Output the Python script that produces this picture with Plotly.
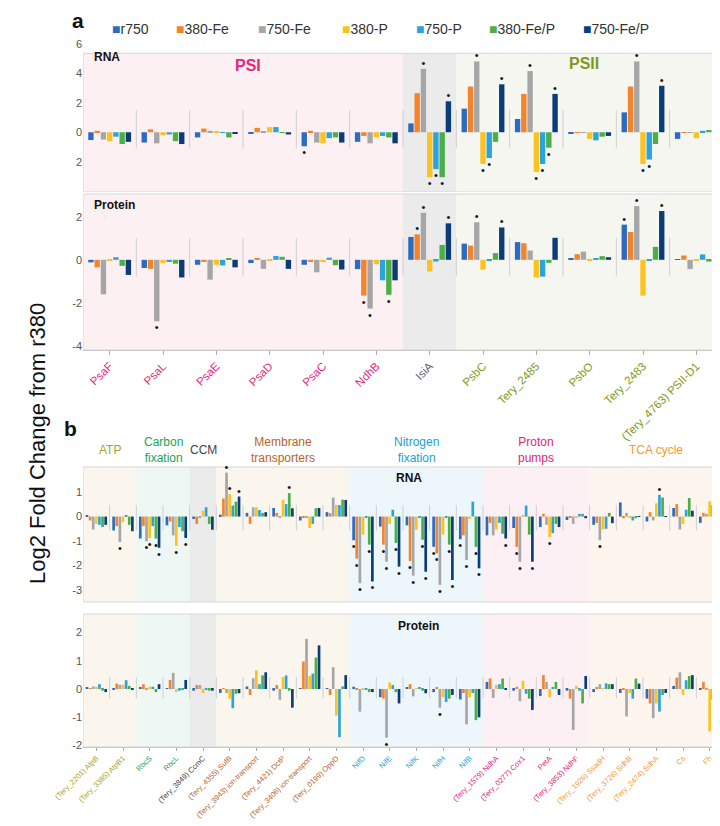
import plotly.graph_objects as go

W, H = 720, 826
FONT = "Liberation Sans, Arial, sans-serif"

series = ["r750", "380-Fe", "750-Fe", "380-P", "750-P", "380-Fe/P", "750-Fe/P"]
colors = ["#2b6cc0", "#f5832a", "#a6a6a6", "#fcc31e", "#2ba3dd", "#4dad48", "#0c3c78"]

# ---------------- panel a ----------------
a_genes = ["PsaF", "PsaL", "PsaE", "PsaD", "PsaC", "NdhB", "IsiA", "PsbC",
           "Tery_2485", "PsbO", "Tery_2483", "(Tery_4763) PSII-D1"]
a_label_colors = ["#e5287a"] * 6 + ["#666666"] + ["#7c9a1c"] * 5

a_rna_r750 = [-0.53, -0.70, -0.35, -0.10, -0.95, -0.65, 0.60, 1.60, 0.90, -0.10, 1.35, -0.45]
a_rna_380Fe = [0.10, 0.20, 0.25, 0.30, 0.10, -0.25, 2.65, 3.10, 2.60, -0.03, 3.10, -0.05]
a_rna_750Fe = [-0.50, -0.75, 0.10, 0.03, -0.70, -0.75, 4.30, 4.80, 4.15, -0.03, 4.80, -0.05]
a_rna_380P = [-0.60, -0.20, 0.05, 0.35, -0.75, -0.35, -3.05, -2.15, -2.70, -0.45, -2.15, -0.40]
a_rna_750P = [-0.30, -0.15, -0.02, 0.35, -0.40, -0.25, -2.50, -1.75, -2.15, -0.55, -1.85, 0.10]
a_rna_380FeP = [-0.80, -0.60, -0.35, -0.02, -0.35, -0.35, -3.05, -0.65, -1.05, -0.30, -0.80, 0.15]
a_rna_750FeP = [-0.65, -0.80, -0.07, -0.15, -0.70, -0.75, 2.10, 3.25, 2.60, -0.25, 3.15, -0.20]

a_prot_r750 = [-0.12, -0.38, -0.23, -0.15, -0.23, -0.43, 1.06, 0.75, 0.82, 0.05, 1.63, 0.03]
a_prot_380Fe = [-0.35, -0.42, -0.10, 0.05, -0.10, -1.66, 1.18, 0.66, 0.77, 0.26, 1.29, 0.20]
a_prot_750Fe = [-1.60, -2.85, -0.92, -0.42, -0.58, -2.26, 2.18, 1.74, 0.43, 0.38, 2.49, -0.43]
a_prot_380P = [-0.03, -0.15, -0.23, -0.02, -0.10, -0.20, -0.54, -0.45, -0.82, -0.03, -1.66, -0.02]
a_prot_750P = [0.12, -0.10, -0.26, 0.18, 0.10, -0.95, -0.08, -0.03, -0.78, 0.08, -0.03, 0.25]
a_prot_380FeP = [-0.28, -0.18, 0.08, 0.14, -0.25, -1.62, 0.69, 0.31, -0.14, 0.17, 0.60, -0.08]
a_prot_750FeP = [-0.70, -0.82, -0.35, -0.42, -0.45, -0.95, 1.69, 1.50, 1.02, 0.12, 2.26, -0.03]

# genes marked with a significance asterisk, per series
a_rna_sig = {
    "r750": ["PsaC"],
    "750-Fe": ["IsiA", "PsbC", "Tery_2485", "Tery_2483"],
    "380-P": ["IsiA", "PsbC", "Tery_2485", "Tery_2483"],
    "750-P": ["IsiA", "PsbC", "Tery_2485", "Tery_2483"],
    "380-Fe/P": ["IsiA", "Tery_2485"],
    "750-Fe/P": ["IsiA", "PsbC", "Tery_2485", "Tery_2483"],
}
a_prot_sig = {
    "r750": ["Tery_2483"],
    "380-Fe": ["NdhB", "IsiA"],
    "750-Fe": ["PsaL", "NdhB", "IsiA", "PsbC", "Tery_2483"],
    "380-Fe/P": ["NdhB"],
    "750-Fe/P": ["IsiA", "PsbC", "Tery_2483"],
}

# ---------------- panel b ----------------
b_genes = ["(Tery_2201) AtpB", "(Tery_3385) AtpB1", "RbcS", "RbcL", "(Tery_3849) CcmC",
           "(Tery_4355) SufB", "(Tery_3943) ion-transport", "(Tery_4421) DctP",
           "(Tery_3406) ion-transport", "(Tery_0199) OppD", "NifD", "NifE", "NifK", "NifH",
           "NifB", "(Tery_1579) NdhA", "(Tery_0277) Cox1", "PetA", "(Tery_3853) NdhF",
           "(Tery_1926) SsadH", "(Tery_3726) SdhB", "(Tery_2474) SdhA", "Cs", "Fh"]
b_label_colors = (["#a3a32a"] * 2 + ["#1aa35c"] * 2 + ["#444444"] + ["#b8642a"] * 5 +
                  ["#1a9fd6"] * 5 + ["#e0257a"] * 4 + ["#f29a3a"] * 5)

b_rna_r750 = [0.05, -0.57, -0.90, -0.36, -0.10, 0.08, 0.15, 0.35, -0.16, 0.18, -0.97, -0.41,
              -0.36, -1.24, -0.93, -0.77, -0.47, -0.43, -0.14, -0.34, 0.58, -0.20, 0.35, -0.26]
b_rna_380Fe = [-0.16, -0.39, -0.39, -0.20, -0.30, 0.74, -0.30, 0.15, -0.02, 0.14, -1.72, -1.15,
               -1.82, -1.51, -0.77, -0.26, -1.24, 0.11, -0.02, -0.26, -0.07, 0.18, 0.51, 0.15]
b_rna_750Fe = [-0.53, -1.04, -1.01, -0.77, -0.07, 1.80, 0.38, -0.05, -0.02, 0.78, -2.73, -1.85,
               -2.42, -2.80, -1.78, -0.77, -1.85, -0.34, -0.30, -0.97, 0.15, -0.16, -0.53, 0.11]
b_rna_380P = [-0.30, -0.23, -0.88, -1.20, 0.24, 0.92, 0.38, 0.69, -0.47, 0.47, -0.74, -0.30,
              -0.54, -0.74, -0.10, -0.53, 0.04, -0.84, -0.02, -0.53, -0.02, 0.54, -0.30, 0.62]
b_rna_750P = [-0.34, 0.04, -0.39, -0.43, 0.38, 0.45, 0.27, 0.51, -0.30, 0.47, -0.03, 0.28,
              -0.03, -0.03, 0.61, -0.26, 0.45, -0.68, 0.11, -0.50, -0.16, 0.89, 0.28, 0.47]
b_rna_380FeP = [-0.43, -0.34, -0.90, -0.60, -0.30, 0.61, 0.15, 0.96, 0.34, 0.69, -1.15, -1.08,
                -0.95, -1.15, -1.24, -0.70, -0.74, -0.30, 0.11, 0.15, -0.07, 0.78, 0.76, 0.28]
b_rna_750FeP = [-0.34, -0.60, -1.28, -0.88, -0.54, 0.82, 0.18, 0.34, 0.35, 0.68, -2.66, -2.05,
                -2.26, -2.60, -2.12, -0.90, -1.85, -0.43, -0.07, -0.27, 0.02, 0.02, 0.24, 0.28]

b_prot_r750 = [0.06, -0.02, 0.06, 0.02, -0.06, -0.14, 0.09, -0.06, 0.02, 0.03, 0.08, -0.29,
               0.05, -0.11, -0.37, 0.25, -0.06, -0.25, -0.06, -0.11, -0.14, -0.34, 0.11, -0.02]
b_prot_380Fe = [0.03, 0.19, 0.17, 0.32, 0.14, 0.03, -0.21, 0.14, 0.97, -0.21, -0.03, -0.34,
                0.17, 0.05, -0.14, 0.37, 0.08, 0.49, -0.34, 0.06, -0.02, -0.51, 0.40, 0.25]
b_prot_750Fe = [0.09, 0.15, -0.03, 0.57, 0.14, -0.14, 0.38, -0.38, 1.77, 0.77, -0.80, -1.72,
                -0.26, -0.66, -1.25, -0.32, -0.43, 0.25, -1.45, 0.17, -0.97, -1.03, 0.59, -0.02]
b_prot_380P = [0.08, 0.15, 0.08, -0.11, -0.14, -0.34, 0.66, 0.42, 0.46, -0.94, -0.02, 0.23,
               0.02, -0.29, -0.29, 0.14, 0.29, -0.29, 0.11, 0.02, -0.14, -0.51, -0.21, -1.50]
b_prot_750P = [0.17, 0.31, 0.08, -0.06, -0.03, -0.68, 0.17, 0.48, 0.54, -1.70, -0.02, 0.14,
               0.06, -0.46, -0.14, 0.17, -0.17, 0.06, -0.06, 0.20, -0.34, -0.80, 0.31, -0.37]
b_prot_380FeP = [-0.06, 0.11, -0.11, -0.03, -0.06, -0.17, 0.48, -0.06, 1.11, 0.09, -0.11, -0.11,
                 -0.06, -0.34, -1.10, 0.37, -0.34, 0.25, -0.51, 0.17, 0.37, -0.21, 0.46, -0.11]
b_prot_750FeP = [-0.11, -0.02, 0.17, 0.32, -0.06, -0.15, 0.59, -0.66, 1.54, 0.49, -0.11, -0.51,
                 -0.15, -0.21, -1.00, -0.02, -0.74, -0.21, 0.46, 0.17, 0.19, -0.14, 0.49, 0.29]

b_rna_sig = {
    "r750": ["NifD", "NifH", "NifB"],
    "380-Fe": ["NifD", "NifE", "NifK", "NifH", "(Tery_0277) Cox1"],
    "750-Fe": ["(Tery_3385) AtpB1", "RbcS", "(Tery_4355) SufB", "NifD", "NifE", "NifK", "NifH",
               "NifB", "(Tery_0277) Cox1", "(Tery_1926) SsadH"],
    "380-P": ["RbcS", "RbcL", "(Tery_4355) SufB", "PetA"],
    "750-P": ["(Tery_2474) SdhA"],
    "380-Fe/P": ["RbcS", "(Tery_4421) DctP", "NifD", "NifE", "NifK", "NifH", "NifB"],
    "750-Fe/P": ["RbcS", "RbcL", "(Tery_4355) SufB", "NifD", "NifE", "NifK", "NifH", "NifB",
                 "(Tery_1579) NdhA", "(Tery_0277) Cox1"],
}
b_prot_sig = {"750-Fe": ["NifE", "NifH"]}

b_groups = ["ATP", "Carbon<br>fixation", "CCM", "Membrane<br>transporters",
            "Nitrogen<br>fixation", "Proton<br>pumps", "TCA cycle"]
b_group_sizes = [2, 2, 1, 5, 5, 4, 5]
b_group_colors = ["#a3a32a", "#1aa35c", "#444444", "#b8642a", "#1a9fd6", "#e0257a", "#f29a3a"]
b_group_fills = ["#faf6ee", "#eef7f4", "#ebebeb", "#faf6ee", "#edf6fb", "#fdf0f4", "#fdf5ee"]

a_groups_sizes = [6, 1, 5]
a_group_fills = ["#fdf0f3", "#ebebeb", "#f6f6f1"]

# ---------------- layout helpers ----------------
def py(px):
    return 1 - px / H

def px_(x):
    return x / W

XD = [px_(75), px_(715)]
panels = [
    dict(genes=a_genes, data=[a_rna_r750, a_rna_380Fe, a_rna_750Fe, a_rna_380P, a_rna_750P, a_rna_380FeP, a_rna_750FeP],
         sig=a_rna_sig, dom=(35, 184), rng=[-4.05, 6.05], tv=[6, 4, 2, 0, -2], tt=["6", "4", "2", "0", "2"],
         box_top=5.35, sep=(1.5, -1.1)),
    dict(genes=a_genes, data=[a_prot_r750, a_prot_380Fe, a_prot_750Fe, a_prot_380P, a_prot_750P, a_prot_380FeP, a_prot_750FeP],
         sig=a_prot_sig, dom=(186, 342), rng=[-4.18, 3.05], tv=[2, 0, -2, -4], tt=["2", "0", "-2", "-4"],
         box_top=None, sep=(1.0, -0.77)),
    dict(genes=b_genes, data=[b_rna_r750, b_rna_380Fe, b_rna_750Fe, b_rna_380P, b_rna_750P, b_rna_380FeP, b_rna_750FeP],
         sig=b_rna_sig, dom=(459, 594), rng=[-3.5, 2.03], tv=[1, 0, -1, -2, -3], tt=["1", "0", "-1", "-2", "-3"],
         box_top=None, sep=(0.47, -0.57)),
    dict(genes=b_genes, data=[b_prot_r750, b_prot_380Fe, b_prot_750Fe, b_prot_380P, b_prot_750P, b_prot_380FeP, b_prot_750FeP],
         sig=b_prot_sig, dom=(606, 739), rng=[-2.05, 2.65], tv=[2, 1, 0, -1, -2], tt=["2", "1", "0", "-1", "-2"],
         box_top=None, sep=(0.42, -0.34)),
]

fig = go.Figure()
shapes = []
annotations = []

for pi, p in enumerate(panels):
    sfx = "" if pi == 0 else str(pi + 1)
    xa, ya = "x" + sfx, "y" + sfx
    for k, s in enumerate(series):
        marks = p["sig"].get(s, [])
        txt = ["\u2022" if g in marks else "" for g in p["genes"]]
        fig.add_trace(go.Bar(
            x=p["genes"], y=p["data"][k], name=s, marker_color=colors[k], marker_line_width=0,
            legendgroup=s, showlegend=False, xaxis=xa, yaxis=ya,
            text=txt, textposition="outside", cliponaxis=False, constraintext="none",
            textfont=dict(size=11, color="#111111", family=FONT), hoverinfo="x+y+name",
        ))
    n = len(p["genes"])
    sizes, fills = (a_groups_sizes, a_group_fills) if pi < 2 else (b_group_sizes, b_group_fills)
    start = -0.5
    for sz, fc in zip(sizes, fills):
        if p["box_top"] is not None:
            shapes.append(dict(type="rect", xref=xa, yref=ya, x0=start, x1=start + sz,
                               y0=p["rng"][0], y1=p["box_top"], fillcolor=fc, line_width=0, layer="below"))
        else:
            shapes.append(dict(type="rect", xref=xa, yref=ya + " domain", x0=start, x1=start + sz,
                               y0=0, y1=1, fillcolor=fc, line_width=0, layer="below"))
        start += sz
    if p["box_top"] is not None:
        shapes.append(dict(type="rect", xref=xa, yref=ya, x0=-0.5, x1=n - 0.5, y0=p["rng"][0],
                           y1=p["box_top"], line=dict(color="#d6d6d6", width=1),
                           fillcolor="rgba(0,0,0,0)", layer="below"))
    else:
        shapes.append(dict(type="rect", xref=xa, yref=ya + " domain", x0=-0.5, x1=n - 0.5, y0=0, y1=1,
                           line=dict(color="#d6d6d6", width=1), fillcolor="rgba(0,0,0,0)", layer="below"))
    for i in range(n - 1):
        shapes.append(dict(type="line", xref=xa, yref=ya, x0=i + 0.5, x1=i + 0.5, y0=p["sep"][1], y1=p["sep"][0],
                           line=dict(color="#cfcfcf", width=1), layer="below"))

    lab_cols = a_label_colors if pi < 2 else b_label_colors
    show_lbl = pi in (1, 3)
    fig.update_layout(**{
        ("xaxis" + sfx): dict(domain=XD, anchor=ya, type="category", range=[-0.5, n - 0.5],
                              automargin=False, showticklabels=show_lbl, tickmode="array", tickvals=p["genes"],
                              ticktext=[f'<span style="color:{c}">{g}</span>' for g, c in zip(p["genes"], lab_cols)],
                              tickangle=-45, tickfont=dict(size=11.5 if pi < 2 else 7.5, family=FONT),
                              ticks="outside" if show_lbl else "", ticklen=4 if pi < 2 else 3, tickcolor="#aaaaaa",
                              showline=show_lbl, linecolor="#c8c8c8", showgrid=False, zeroline=False),
        ("yaxis" + sfx): dict(domain=[py(p["dom"][1]), py(p["dom"][0])], anchor=xa, range=p["rng"],
                              automargin=False, tickmode="array", tickvals=p["tv"], ticktext=p["tt"],
                              tickfont=dict(size=11, color="#555555", family=FONT),
                              showgrid=False, zeroline=False, showline=False, ticks=""),
    })

def ann(text, x, y, size, color="#111111", bold=False, xanchor="center"):
    annotations.append(dict(text=f"<b>{text}</b>" if bold else text, x=x, y=y, xref="paper", yref="paper",
                            xanchor=xanchor, yanchor="middle", showarrow=False,
                            font=dict(size=size, color=color, family=FONT)))

# legend built from text items (square swatch tight to the label, as in the reference)
legend_x = [102, 166, 248, 332, 406, 479, 573]
for s, c, lx in zip(series, colors, legend_x):
    annotations.append(dict(text=f'<span style="color:{c}">\u25a0</span>{s}', x=px_(lx), y=py(21),
                            xref="paper", yref="paper", xanchor="left", yanchor="middle", showarrow=False,
                            font=dict(size=14, color="#333333", family=FONT)))

ann("a", px_(62), py(12), 21, bold=True, xanchor="left")
ann("b", px_(54), py(420), 21, bold=True, xanchor="left")
ann("RNA", px_(84), py(49), 12, bold=True, xanchor="left")
ann("Protein", px_(84), py(197), 12, bold=True, xanchor="left")
ann("PSI", px_(240), py(58), 16, color="#e5287a", bold=True)
ann("PSII", px_(576), py(55), 16, color="#7c9a1c", bold=True)
ann("RNA", px_(401), py(470), 12, bold=True)
ann("Protein", px_(410), py(618), 12, bold=True)

start = -0.5
for name, sz, col in zip(b_groups, b_group_sizes, b_group_colors):
    annotations.append(dict(text=name, x=start + sz / 2, y=py(442), xref="x3", yref="paper", xanchor="center",
                            yanchor="middle", showarrow=False, font=dict(size=12, color=col, family=FONT)))
    start += sz

annotations.append(dict(text="Log2 Fold Change from r380", x=px_(30), y=py(436), xref="paper", yref="paper",
                        textangle=-90, showarrow=False, xanchor="center", yanchor="middle",
                        font=dict(size=22, color="#111111", family=FONT)))

fig.update_layout(
    width=W, height=H, margin=dict(l=0, r=0, t=0, b=0, autoexpand=False),
    paper_bgcolor="white", plot_bgcolor="rgba(0,0,0,0)",
    barmode="group", bargap=0.18, bargroupgap=0.14,
    font=dict(family=FONT),
    shapes=shapes, annotations=annotations,
    showlegend=False,
)

fig.write_html("out.html")
